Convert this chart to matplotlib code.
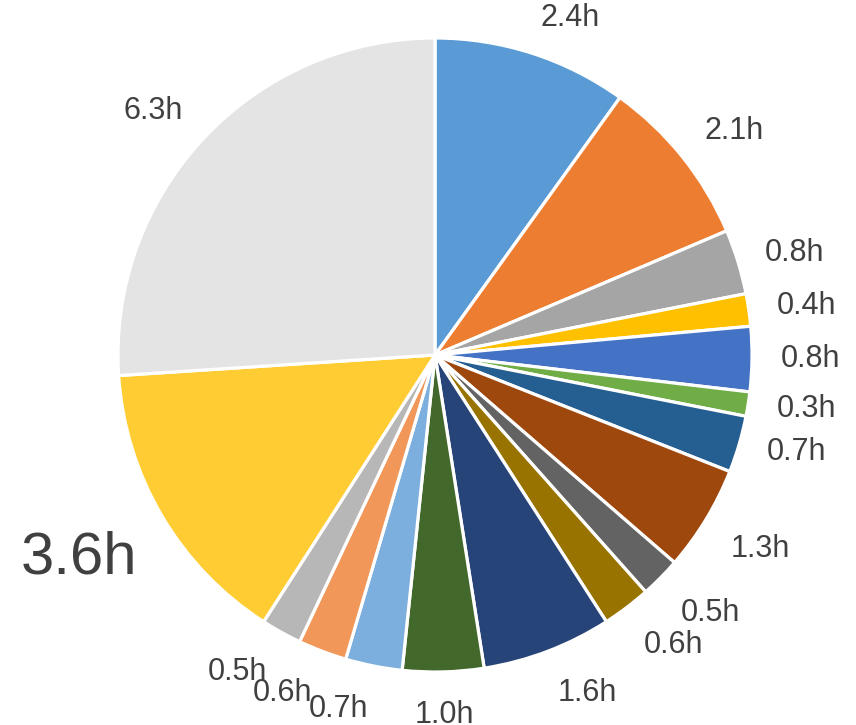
import numpy as np
import matplotlib.pyplot as plt

# hours per slice, clockwise from 12 o'clock
hours = [2.4, 2.1, 0.8, 0.4, 0.8, 0.3, 0.7, 1.3, 0.5, 0.6, 1.6, 1.0, 0.7, 0.6, 0.5, 3.6, 6.3]
labels = [f"{h:.1f}h" for h in hours]
colors = ['#5B9BD5', '#ED7D31', '#A5A5A5', '#FFC000', '#4472C4', '#70AD47',
          '#255E91', '#9E480E', '#636363', '#997300', '#264478', '#43682B',
          '#7CAFDD', '#F1975A', '#B7B7B7', '#FFCD33', '#E4E4E4']
big_label = 15  # index of the slice with the enlarged label

W, H = 856, 725
R = 317.0
cx, cy = 435, 355

fig = plt.figure(figsize=(W / 100, H / 100), dpi=100)
ax = fig.add_axes([0, 0, 1, 1])

wedges, _ = ax.pie(hours, colors=colors, startangle=90, counterclock=False,
                   radius=1.0, wedgeprops=dict(edgecolor='white', linewidth=2.3))

# pie() resets limits and aspect, so set them afterwards
ax.set_aspect('auto')
ax.set_xlim(-cx / R, (W - cx) / R)
ax.set_ylim(-(H - cy) / R, cy / R)
ax.axis('off')

for i, w in enumerate(wedges):
    mid = np.deg2rad((w.theta1 + w.theta2) / 2)
    s, c = np.cos(mid), np.sin(mid)
    x, y = 1.09 * s, 1.09 * c
    ha = 'left' if s > 0.05 else ('right' if s < -0.05 else 'center')
    va = 'baseline' if c > 0.4 else ('top' if c < -0.4 else 'center')
    size = 43 if i == big_label else 22
    ax.text(x, y, labels[i], ha=ha, va=va, fontsize=size, color='#404040',
            family='Liberation Sans')

fig.savefig('out.png', dpi=100)
